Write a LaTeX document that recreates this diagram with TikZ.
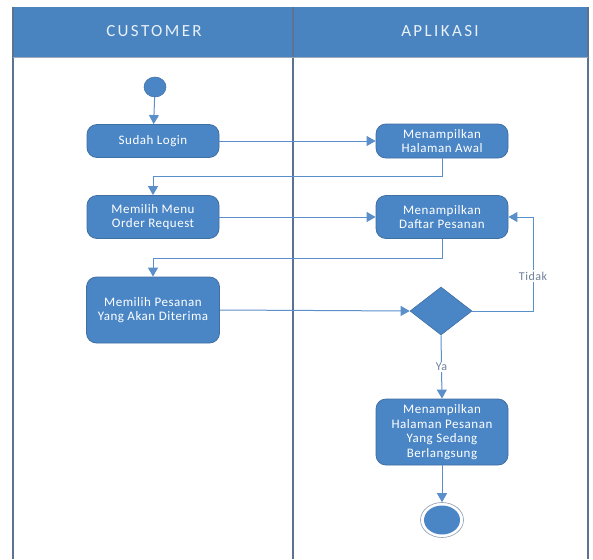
\documentclass[tikz,border=0pt]{standalone}
\usepackage{fontspec}
\setmainfont{Carlito}
\newfontfamily\headfont[LetterSpace=14]{Carlito}
\newfontfamily\actfont[LetterSpace=4]{Carlito}
\usetikzlibrary{shapes.geometric,arrows.meta}

\definecolor{headfill}{HTML}{4A84C0}
\definecolor{headtext}{HTML}{E8F0F8}
\definecolor{frameline}{HTML}{5C7390}
\definecolor{actfill}{HTML}{4A86C6}
\definecolor{actborder}{HTML}{3F6FA3}
\definecolor{flowline}{HTML}{5A8FC9}
\definecolor{guardtext}{HTML}{6D8099}

\tikzset{
  act/.style={draw=actborder, line width=0.8pt, fill=actfill, rounded corners=10pt,
    text=white, align=center, inner sep=2pt,
    font=\actfont\fontsize{13}{14.5}\selectfont},
  decision/.style={diamond, draw=actborder, line width=0.6pt, fill=actfill,
    minimum width=62pt, minimum height=48pt, inner sep=0pt},
  flow/.style={draw=flowline, line width=1pt,
    -{Triangle[length=9pt,width=10pt]}},
  guard/.style={text=guardtext, fill=white, inner sep=1.5pt,
    font=\actfont\fontsize{12}{14}\selectfont},
  lanehead/.style={text=headtext, font=\headfont\fontsize{17}{19}\selectfont}
}

\begin{document}
\begin{tikzpicture}[x=1pt,y=-1pt]
\useasboundingbox (0,0) rectangle (593,559);

% swimlane headers and lane borders
\fill[headfill] (13,7) rectangle (588,57);
\draw[frameline, line width=1.2pt] (13,7) -- (13,559);
\draw[frameline, line width=1.2pt] (588,7) -- (588,559);
\draw[frameline, line width=1.2pt] (293,7) -- (293,559);
\draw[frameline!60, line width=0.6pt] (13,57) -- (588,57);
\node[lanehead] (hcust) at (154,31) {CUSTOMER};
\node[lanehead] (happ) at (440,31) {APLIKASI};

% activities
\node[ellipse, draw=actborder, line width=0.5pt, fill=actfill,
  minimum width=22pt, minimum height=20pt, inner sep=0pt] (start) at (155,87) {};
\node[act, minimum width=132pt, minimum height=33pt] (login) at (153,141) {Sudah Login};
\node[act, minimum width=132pt, minimum height=34pt] (awal) at (442,141) {Menampilkan\\Halaman Awal};
\node[act, minimum width=132pt, minimum height=43pt] (menu) at (153,217) {Memilih Menu\\Order Request};
\node[act, minimum width=132pt, minimum height=43pt] (daftar) at (442,217) {Menampilkan\\Daftar Pesanan};
\node[act, minimum width=133pt, minimum height=66pt] (pilih) at (153,310) {Memilih Pesanan\\Yang Akan Diterima};
\node[decision] (cek) at (441,311) {};
\node[act, minimum width=132pt, minimum height=66pt] (hasil) at (442,432) {Menampilkan\\Halaman Pesanan\\Yang Sedang\\Berlangsung};
\node[ellipse, draw=frameline!70, line width=0.6pt, fill=white,
  minimum width=43pt, minimum height=35pt, inner sep=0pt] (end) at (442,520) {};
\node[ellipse, fill=actfill, minimum width=36pt, minimum height=29pt, inner sep=0pt]
  (endcore) at (442,520) {};

% corner points of the elbow connectors
\coordinate (c1) at (442,176);
\coordinate (c2) at (153,176);
\coordinate (c3) at (442,258);
\coordinate (c4) at (153,258);
\coordinate (c5) at (533,311);
\coordinate (c6) at (533,217);

% control flow
\draw[flow] (start) -- (login);
\draw[flow] (login) -- (awal);
\draw[flow] (awal.south) -- (c1) -- (c2) -- (menu.north);
\draw[flow] (menu) -- (daftar);
\draw[flow] (daftar.south) -- (c3) -- (c4) -- (pilih.north);
\draw[flow] (pilih.east) -- (cek.west);
\draw[flow] (cek.east) -- (c5) -- (c6) -- (daftar.east)
  node[guard, pos=0.0, yshift=-59pt] (tidak) {Tidak};
\draw[flow] (cek.south) -- (hasil.north)
  node[guard, pos=0.5] (ya) {Ya};
\draw[flow] (hasil.south) -- (end.north);
\end{tikzpicture}
\end{document}
